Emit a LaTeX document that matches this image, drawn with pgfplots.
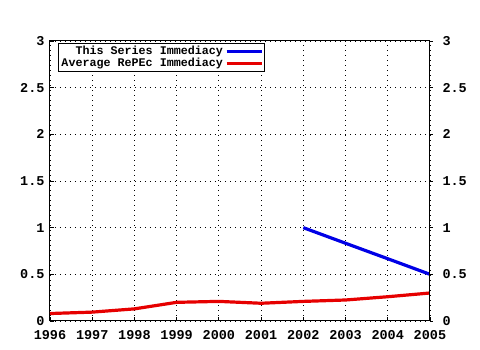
\documentclass[border=0pt]{standalone}
\usepackage{pgfplots}
\pgfplotsset{compat=1.18}
\usepackage{fontspec}
\setmainfont{Liberation Mono}
\definecolor{gblue}{RGB}{0,0,230}
\definecolor{gred}{RGB}{230,0,0}
\begin{document}
\begin{tikzpicture}
\path[use as bounding box] (-50pt,-29pt) rectangle (430pt,321pt);
\pgfplotsset{
  common/.style={
    at={(0pt,0pt)}, anchor=south west,
    scale only axis, width=380pt, height=280pt,
    xmin=1996, xmax=2005, ymin=0, ymax=3,
    ytick={0,0.5,1,1.5,2,2.5,3},
    yticklabels={0,0.5,1,1.5,2,2.5,3},
    tick style={black, line width=0.8pt},
    major tick length=4pt,
    axis line style={black, line width=1pt},
    tick label style={font=\fontsize{13.5}{14}\selectfont\bfseries},
  }
}
\begin{axis}[common,
  xtick={1996,...,2005},
  xticklabels={1996,1997,1998,1999,2000,2001,2002,2003,2004,2005},
  minor x tick num=3,
  minor tick length=2pt,
  ytick pos=left, xtick pos=bottom,
  tick align=inside,
  grid=major,
  major grid style={black, dash pattern=on 1.2pt off 3.8pt, line width=0.9pt},
  xticklabel style={yshift=-6pt},
  yticklabel style={xshift=-2pt},
  legend style={at={(8pt,278pt)}, anchor=north west, draw=black, line width=1pt,
    font=\fontsize{11.7}{12}\selectfont\bfseries, inner sep=1pt,
    row sep=-2pt, fill=white},
  legend cell align=right,
  legend plot pos=right,
  legend image code/.code={\draw[#1] (0pt,0pt) -- (35pt,0pt);},
]
\addplot[gblue, line width=3.2pt] coordinates {(2002,1.0) (2003,0.833) (2004,0.667) (2005,0.5)};
\addlegendentry{This Series Immediacy}
\addplot[gred, line width=3.2pt] coordinates {
(1996,0.08) (1997,0.095) (1998,0.13) (1999,0.2) (2000,0.21) (2001,0.19) (2002,0.21) (2003,0.225) (2004,0.26) (2005,0.30)};
\addlegendentry{Average RePEc Immediacy}
\end{axis}
\begin{axis}[common,
  axis x line=none, axis y line*=right,
  ytick pos=right, yticklabel pos=right,
  tick align=outside, major tick length=3pt,
  yticklabel style={xshift=6pt},
]
\addplot[draw=none] coordinates {(1996,0)};
\end{axis}
\end{tikzpicture}
\end{document}
